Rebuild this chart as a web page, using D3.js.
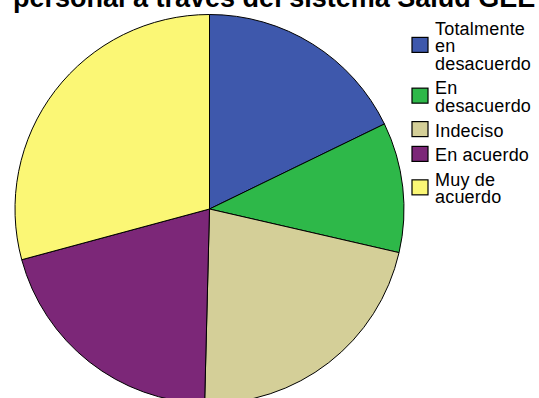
<!DOCTYPE html>
<html>
<head>
<meta charset="utf-8">
<script src="https://cdn.jsdelivr.net/npm/d3@7"></script>
<style>
  html, body { margin: 0; padding: 0; background: #fff; }
  svg { display: block; }
  text { font-family: "Liberation Sans", Arial, sans-serif; }
</style>
</head>
<body>
<svg id="chart" width="539" height="398"></svg>
<script>
// Response categories and their share of answers (%)
const categories = ["Totalmente en desacuerdo", "En desacuerdo", "Indeciso", "En acuerdo", "Muy de acuerdo"];
const legendLines = [["Totalmente", "en", "desacuerdo"], ["En", "desacuerdo"], ["Indeciso"], ["En acuerdo"], ["Muy de", "acuerdo"]];
const values = [17.8, 10.8, 21.8, 20.4, 29.2];
const colors = ["#3e58ac", "#2eb849", "#d4cf98", "#7c2778", "#fbf775"];
const title = "personal a través del sistema Salud GEE";

const svg = d3.select("#chart");

// Title (sits partly above the visible area)
svg.append("text")
  .attr("x", 13)
  .attr("y", 7)
  .attr("text-anchor", "start")
  .style("font-weight", "bold")
  .style("font-size", "27px")
  .attr("fill", "#000")
  .text(title);

// Pie
const cx = 209.5, cy = 209, R = 194.5;
const data = categories.map((c, i) => ({ cat: c, value: values[i], color: colors[i] }));
const pie = d3.pie().sort(null).value(d => d.value);
const arc = d3.arc().innerRadius(0).outerRadius(R);

svg.append("g")
  .attr("transform", `translate(${cx},${cy})`)
  .selectAll("path")
  .data(pie(data))
  .join("path")
  .attr("d", arc)
  .attr("fill", d => d.data.color)
  .attr("stroke", "#000")
  .attr("stroke-width", 1)
  .attr("stroke-linejoin", "round");

// Legend
const lineH = 17.3, itemGap = 7.5, fontSize = 18, capH = 12.8;
const legend = svg.append("g").attr("class", "legend");
let baseline = 35;
data.forEach((d, i) => {
  const lines = legendLines[i];
  const g = legend.append("g");
  const blockMid = baseline + (lines.length - 1) * lineH / 2 - capH / 2 - 1;
  g.append("rect")
    .attr("x", 412)
    .attr("y", blockMid - 7.5)
    .attr("width", 16)
    .attr("height", 15)
    .attr("fill", d.color)
    .attr("stroke", "#000")
    .attr("stroke-width", 1.2);
  const t = g.append("text")
    .attr("x", 435)
    .attr("y", baseline)
    .style("font-size", fontSize + "px")
    .style("letter-spacing", "0.2px")
    .attr("fill", "#000");
  lines.forEach((ln, j) => {
    t.append("tspan")
      .attr("x", 435)
      .attr("y", baseline + j * lineH)
      .text(ln);
  });
  baseline += lines.length * lineH + itemGap;
});
</script>
</body>
</html>
